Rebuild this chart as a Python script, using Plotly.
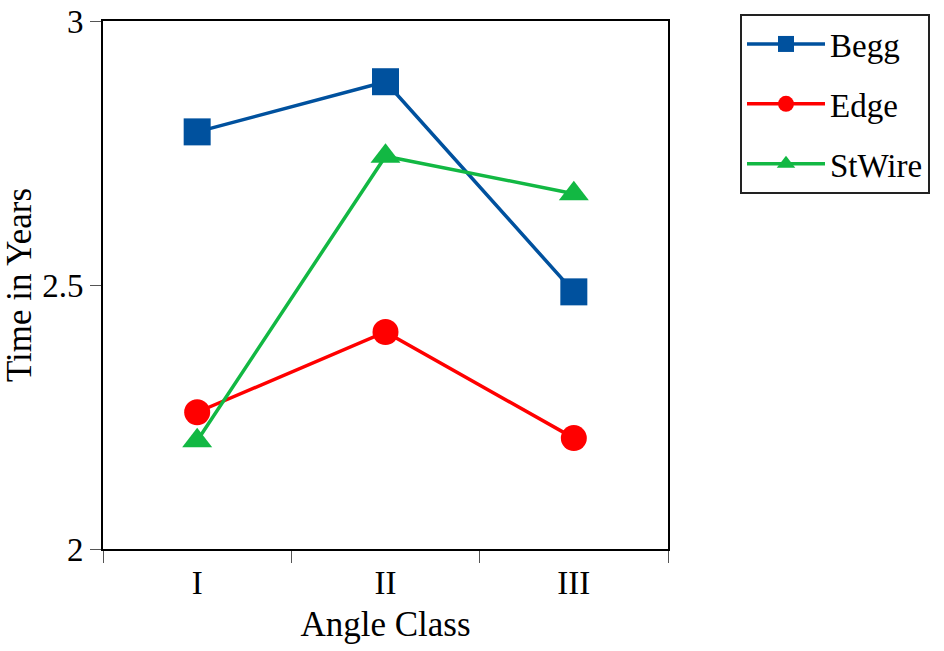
import plotly.graph_objects as go

categories = ["I", "II", "III"]
begg = [2.790, 2.885, 2.487]
edge = [2.259, 2.411, 2.210]
stwire = [2.205, 2.744, 2.673]
y_tickvals = [2, 2.5, 3]
y_ticktext = ["2", "2.5", "3"]

FONT = "Palatino Linotype, Book Antiqua, Palatino, Liberation Serif, serif"

fig = go.Figure()
series = [
    ("Begg", begg, "#00519E", "square", 27),
    ("Edge", edge, "#FF0000", "circle", 26),
    ("StWire", stwire, "#12B843", "triangle-up", 26),
]
for name, vals, color, sym, size in series:
    fig.add_trace(go.Scatter(
        x=categories, y=vals, name=name, legendgroup=name,
        mode="lines+markers",
        line=dict(color=color, width=3.5),
        marker=dict(symbol=sym, size=size, color=color, line=dict(width=0)),
    ))

W, H = 944, 651
L, T = 103, 21
PW, PH = 565, 528
fig.update_layout(
    width=W, height=H,
    margin=dict(l=L, r=W - L - PW, t=T, b=H - T - PH, autoexpand=False),
    plot_bgcolor="white", paper_bgcolor="white",
    font=dict(family=FONT, size=33, color="black"),
    showlegend=True,
    legend=dict(
        x=(740 - L) / PW, y=(T + PH - 14) / PH,
        xanchor="left", yanchor="top",
        bordercolor="#222222", borderwidth=2, bgcolor="white",
        font=dict(family=FONT, size=33, color="black"),
        traceorder="grouped", tracegroupgap=14, itemwidth=78,
        entrywidth=215, entrywidthmode="pixels",
    ),
    xaxis=dict(
        type="category", range=[-0.5, 2.5],
        tickson="boundaries", ticks="outside", ticklen=12, tickwidth=1,
        tickcolor="#555555", ticklabelstandoff=3,
        showline=True, linecolor="black", linewidth=2, mirror=True,
        showgrid=False, zeroline=False,
        title=dict(text="Angle Class", standoff=12,
                   font=dict(family=FONT, size=35)),
    ),
    yaxis=dict(
        range=[2, 3], tickvals=y_tickvals, ticktext=y_ticktext,
        ticks="outside", ticklen=11, tickwidth=1, tickcolor="#555555",
        ticklabeloverflow="allow", automargin=True,
        showline=True, linecolor="black", linewidth=2, mirror=True,
        showgrid=False, zeroline=False,
        title=dict(text="Time in Years", standoff=8,
                   font=dict(family=FONT, size=35)),
    ),
)

fig.write_html(
    "out.html",
    config={"displayModeBar": False},
    post_script="document.body.style.margin='0';document.body.style.overflow='hidden';",
)
